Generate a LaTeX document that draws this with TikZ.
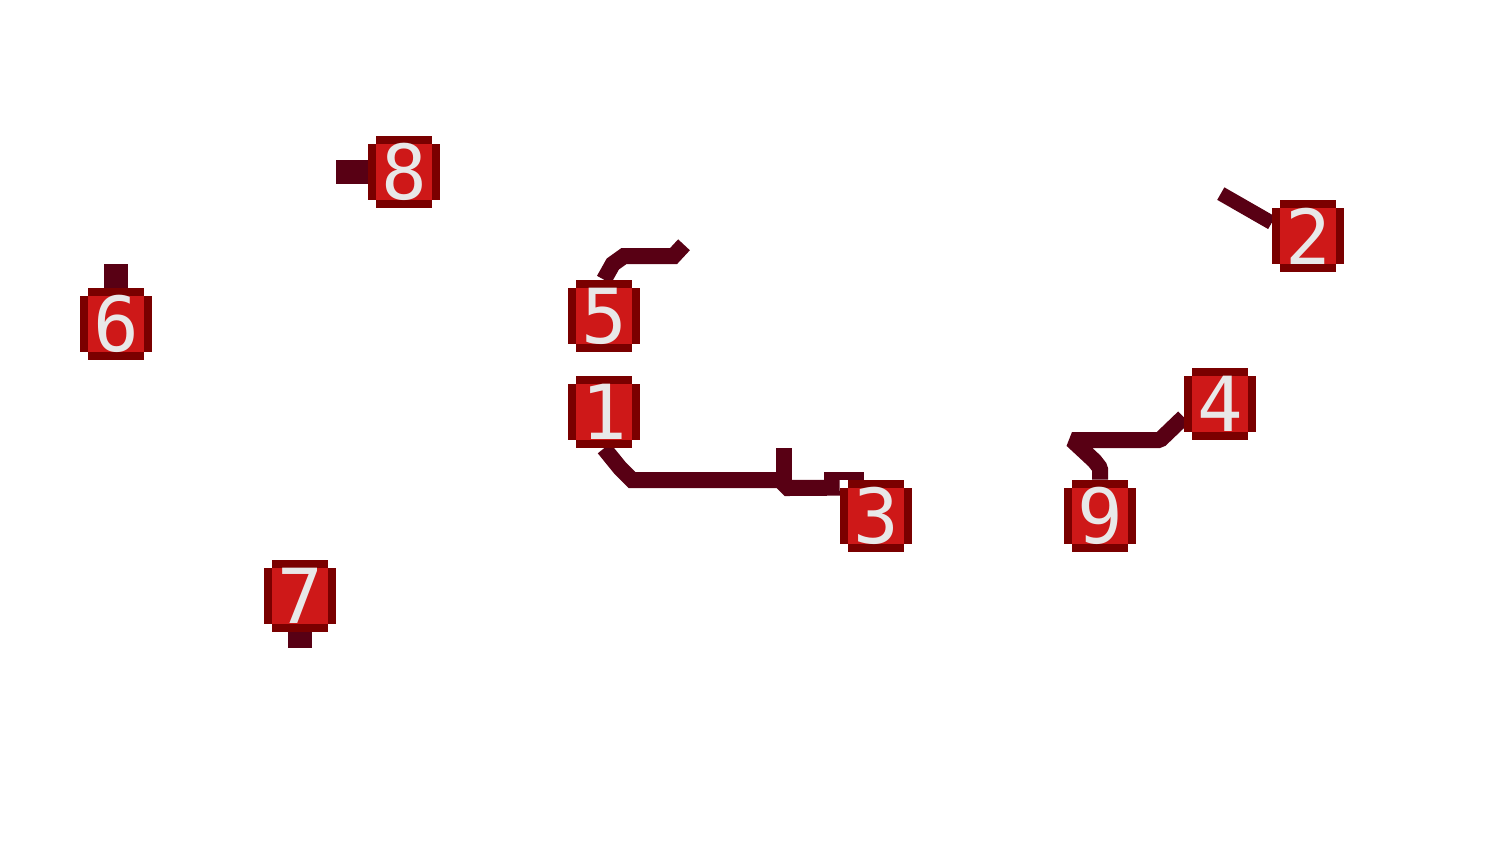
\documentclass[tikz,border=0pt]{standalone}
\usepackage{fontspec}
\setmonofont{DejaVu Sans Mono}
\usepackage{tikz}
\usetikzlibrary{backgrounds}

\definecolor{tileedge}{RGB}{122,0,0}
\definecolor{tilered}{RGB}{206,24,24}
\definecolor{tiletext}{RGB}{232,232,232}
\definecolor{wirecol}{RGB}{88,0,20}

\tikzset{
  tile/.style={minimum size=1.8cm, inner sep=0pt, text=tiletext,
    font=\ttfamily\fontsize{54}{54}\selectfont,
    path picture={
      \fill[tileedge] ([yshift=-2mm]path picture bounding box.north west) rectangle ([yshift=2mm]path picture bounding box.south east);
      \fill[tileedge] ([xshift=2mm]path picture bounding box.north west) rectangle ([xshift=-2mm]path picture bounding box.south east);
      \fill[tilered] ([shift={(2mm,-2mm)}]path picture bounding box.north west) rectangle ([shift={(-2mm,2mm)}]path picture bounding box.south east);
    }},
  wire/.style={draw=wirecol, line width=4mm},
  stub/.style={draw=wirecol, line width=6mm},
}

\begin{document}
\begin{tikzpicture}[x=0.2cm,y=-0.2cm]
\useasboundingbox (0,0) rectangle (189,105);

\node[tile] (n5) at (75.5,39.5) {5};
\node[tile] (n1) at (75.5,51.5) {1};
\node[tile] (n3) at (109.5,64.5) {3};
\node[tile] (n9) at (137.5,64.5) {9};
\node[tile] (n4) at (152.5,50.5) {4};
\node[tile] (n2) at (163.5,29.5) {2};
\node[tile] (n8) at (50.5,21.5) {8};
\node[tile] (n6) at (14.5,40.5) {6};
\node[tile] (n7) at (37.5,74.5) {7};

\coordinate (end5) at (85.5,30.6);
\coordinate (end2) at (152.6,24.2);
\coordinate (end8) at (42,21.5);
\coordinate (end6) at (14.5,33);
\coordinate (end7) at (37.5,81);
\coordinate (tick) at (98,56);

\begin{scope}[on background layer]
\fill[white] (0,0) rectangle (189,105);

\draw[wire] (n5.north) -- (76.6,33) -- (78,32) -- (84.2,32) -- (end5);
\draw[wire] (n1.south) -- (77.5,58.5) -- (79,60) -- (97.5,60) -- (98.5,61) -- (n3.142);
\draw[wire] (tick) -- ++(0,4);
\fill[wirecol] (103,59) rectangle (108,60);
\draw[wire,line join=bevel] (n4.200) -- (145,55) -- (134,55) -- (136.8,57.6) -- (137.5,58.5) -- (n9.north);
\draw[wire,line width=3.6mm] (n2.160) -- (end2);

\draw[stub] (n8.west) to (end8);
\draw[stub] (n6.north) to (end6);
\draw[stub] (n7.south) to (end7);
\end{scope}
\end{tikzpicture}
\end{document}
